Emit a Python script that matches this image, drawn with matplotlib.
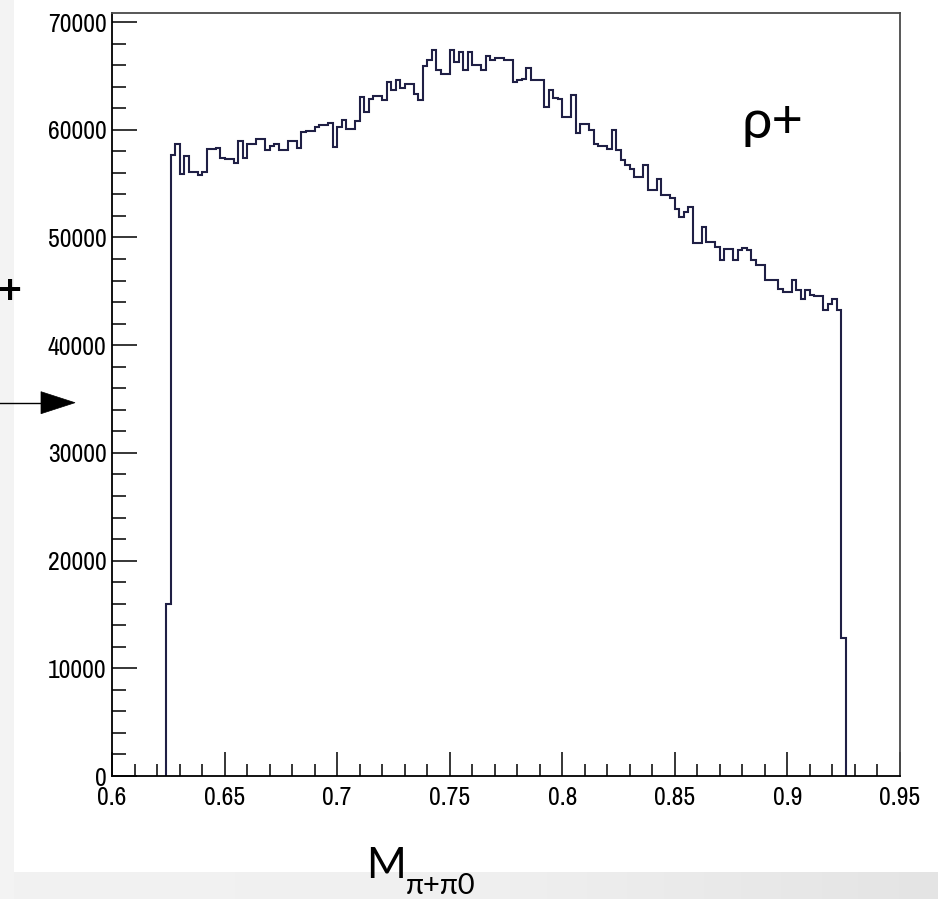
import numpy as np
import matplotlib
matplotlib.use("Agg")
import matplotlib.pyplot as plt
from matplotlib.patches import Rectangle, Polygon
from matplotlib.lines import Line2D
from matplotlib.ticker import MultipleLocator
from matplotlib.colors import LinearSegmentedColormap

# invariant mass spectrum, events per bin
bin_low = 0.624
bin_width = 0.002
counts = [
    16000, 57630, 58650, 55930, 57540, 56080, 56080, 55770, 56080, 58200,
    58200, 58340, 57410, 57320, 57320, 56910, 58960, 57410, 58650, 58650,
    59180, 59180, 58150, 58460, 58710, 58150, 58150, 58960, 58960, 58340,
    59790, 59880, 59880, 60260, 60410, 60410, 60630, 58400, 60260, 60880,
    60100, 60100, 60810, 63040, 61650, 62880, 63100, 63100, 62730, 64430,
    63660, 64590, 63910, 64220, 64220, 63290, 62730, 65890, 66440, 67440,
    65520, 65150, 65150, 67440, 66290, 67200, 65520, 67200, 65980, 65980,
    65520, 66820, 66510, 66630, 66630, 66440, 66440, 64430, 64590, 64740,
    65760, 64650, 64620, 64590, 62110, 63660, 62980, 62880, 61180, 61180,
    63250, 59700, 60510, 60510, 59950, 58710, 58460, 58460, 58250, 59950,
    58150, 57160, 56700, 56390, 55610, 55610, 56700, 54380, 54380, 55460,
    53920, 53920, 53700, 52680, 51900, 52400, 52830, 49490, 49490, 50980,
    49580, 49580, 49120, 47880, 48970, 48970, 47880, 48810, 49060, 48810,
    47880, 47420, 47420, 46030, 46030, 46030, 45260, 44940, 44940, 46090,
    45100, 44330, 45100, 44640, 44540, 44540, 43240, 43860, 44330, 43300,
    12800,
]
x_range = (0.6, 0.95)
x_major = [0.6, 0.65, 0.7, 0.75, 0.8, 0.85, 0.9, 0.95]
x_major_labels = ["0.6", "0.65", "0.7", "0.75", "0.8", "0.85", "0.9", "0.95"]
y_major = [0, 10000, 20000, 30000, 40000, 50000, 60000, 70000]
y_major_labels = ["0", "10000", "20000", "30000", "40000", "50000", "60000", "70000"]

edges = bin_low + bin_width * np.arange(len(counts) + 1)

W, H = 938, 899
fig = plt.figure(figsize=(W / 100, H / 100), dpi=100)
fig.patch.set_facecolor("white")


def fx(px):
    return px / W


def fy(py):
    return 1 - py / H


# slide background: grey strip on the left, shaded band along the bottom
fig.patches.append(Rectangle((0, 0), fx(14), 1, transform=fig.transFigure,
                             facecolor="#f3f3f3", edgecolor="none", zorder=0))
band = fig.add_axes([0, 0, 1, fy(872)], zorder=-1)
band.imshow(np.linspace(0, 1, 256)[None, :], aspect="auto", extent=(0, 1, 0, 1),
            cmap=LinearSegmentedColormap.from_list("band", ["#f2f2f2", "#f0f0f0", "#e4e4e4"]))
band.set_axis_off()

ax = fig.add_axes([fx(112), fy(776), fx(900) - fx(112), fy(13.3) - fy(776)])
ax.set_facecolor("white")

ax.stairs(counts, edges, baseline=0, color="#1f1f45", lw=1.5)

ax.set_xlim(*x_range)
ax.set_ylim(0, 1.05 * max(counts))

tick_font = dict(family=["Archivo Narrow", "Liberation Sans"], size=18.5)
ax.set_xticks(x_major)
ax.set_xticklabels(x_major_labels, fontdict=tick_font)
ax.set_yticks(y_major)
ax.set_yticklabels(y_major_labels, fontdict=tick_font)
ax.xaxis.set_minor_locator(MultipleLocator(0.01))
ax.yaxis.set_minor_locator(MultipleLocator(2000))

ax.tick_params(axis="both", which="both", direction="in", width=1.1,
               color="black", top=False, right=False)
ax.tick_params(axis="x", which="major", length=17.5, pad=7)
ax.tick_params(axis="x", which="minor", length=9)
ax.tick_params(axis="y", which="major", length=18, pad=4)
ax.tick_params(axis="y", which="minor", length=10)

for side in ("left", "bottom"):
    ax.spines[side].set_color("black")
    ax.spines[side].set_linewidth(1.3)
for side in ("top", "right"):
    ax.spines[side].set_color("#4a4a4a")
    ax.spines[side].set_linewidth(1.3)

# particle label
fig.text(fx(741), fy(138), "\u03c1+", family=["Lato", "DejaVu Sans"],
         fontsize=39, color="black", ha="left", va="baseline")

# axis title M with subscript
fig.text(fx(366), fy(878), "M", family=["Lato", "DejaVu Sans"],
         fontsize=31, color="black", ha="left", va="baseline")
fig.text(fx(406), fy(894), "\u03c0+\u03c00", family=["Lato", "DejaVu Sans"],
         fontsize=21, color="black", ha="left", va="baseline")

# margin marks
fig.text(fx(9), fy(292), "+", family=["Lato", "DejaVu Sans"], fontsize=30,
         fontweight="bold", color="black", ha="center", va="center")
fig.add_artist(Line2D([0, fx(42)], [fy(402.7), fy(402.7)],
                      transform=fig.transFigure, color="black", lw=1))
fig.add_artist(Polygon([[fx(41), fy(391.7)], [fx(75), fy(402.7)], [fx(41), fy(413.7)]],
                       closed=True, transform=fig.transFigure,
                       facecolor="black", edgecolor="black", lw=0.5))

fig.savefig("out.png", dpi=100)
